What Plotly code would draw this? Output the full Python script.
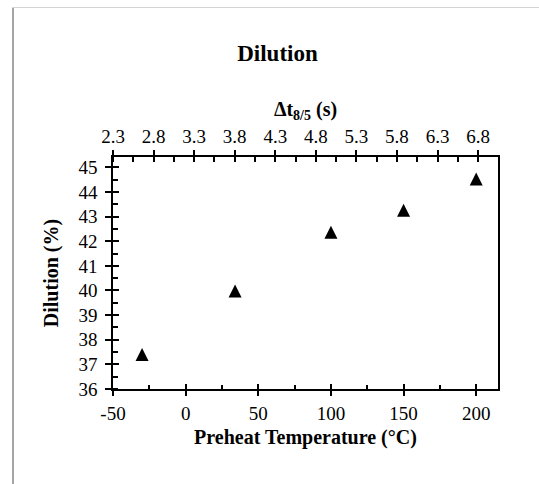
import plotly.graph_objects as go

# ---- data ----
preheat_temp = [-30, 34, 100, 150, 200]
dilution = [37.40, 39.98, 42.36, 43.26, 44.53]

x_ticks = [-50, 0, 50, 100, 150, 200]
x_ticktext = ["-50", "0", "50", "100", "150", "200"]
top_ticks = [2.3, 2.8, 3.3, 3.8, 4.3, 4.8, 5.3, 5.8, 6.3, 6.8]
top_ticktext = ["2.3", "2.8", "3.3", "3.8", "4.3", "4.8", "5.3", "5.8", "6.3", "6.8"]
y_ticks = [36, 37, 38, 39, 40, 41, 42, 43, 44, 45]

W, H = 539, 484
ML, MR, MT, MB = 113, 41, 157, 95
PW, PH = W - ML - MR, H - MT - MB

def px_x(p):
    return (p - ML) / PW

def px_y(p):
    return (H - MB - p) / PH

FONT = "Liberation Serif, Times New Roman, serif"
TICKFONT = dict(family=FONT, size=19, color="black")
TITLEFONT = dict(family=FONT, size=20, color="black")

XR = [-50, 215]
TR = [2.3, 7.045]
YR = [36, 45.42]

fig = go.Figure()
fig.add_trace(go.Scatter(
    x=preheat_temp, y=dilution, mode="markers", xaxis="x", yaxis="y",
    marker=dict(symbol="arrow-down", angle=180, standoff=6.5, size=13, color="black",
                line=dict(width=0)),
    showlegend=False, hoverinfo="x+y",
))
# empty traces so overlay axes exist
for xa, ya in [("x2", "y"), ("x3", "y"), ("x4", "y"), ("x", "y2")]:
    fig.add_trace(go.Scatter(x=[], y=[], xaxis=xa, yaxis=ya, showlegend=False))

common_line = dict(showline=True, linecolor="black", linewidth=1.5, showgrid=False,
                   zeroline=False, tickcolor="black", tickwidth=1.5)

fig.update_layout(
    width=W, height=H,
    margin=dict(l=ML, r=MR, t=MT, b=MB, pad=0),
    paper_bgcolor="white", plot_bgcolor="white",
    title=dict(text="<b>Dilution</b>", x=px_x(277.5), xref="paper", xanchor="center",
               y=1 - 53 / H, yref="container", yanchor="middle",
               font=dict(family=FONT, size=23, color="black")),
    xaxis=dict(range=XR, tickmode="array", tickvals=x_ticks, ticktext=x_ticktext,
               ticks="outside", ticklen=5, ticklabelstandoff=1,
               minor=dict(ticks="inside", tickvals=[-25, 25, 75, 125, 175], ticklen=4,
                          tickcolor="black", tickwidth=1.5),
               tickfont=TICKFONT, anchor="y",
               title=dict(text="<b>Preheat Temperature (°C)</b>", font=TITLEFONT, standoff=7),
               **common_line),
    xaxis3=dict(range=XR, overlaying="x", anchor="y", side="bottom", tickmode="array",
                tickvals=x_ticks, ticks="inside", ticklen=5, showticklabels=False,
                tickcolor="black", tickwidth=1.5, showline=False, showgrid=False, zeroline=False),
    xaxis2=dict(range=TR, overlaying="x", anchor="y", side="top", tickmode="array",
                tickvals=top_ticks, ticktext=top_ticktext,
                ticks="outside", ticklen=5,
                minor=dict(ticks="inside", dtick=0.25, tick0=2.3, ticklen=5,
                           tickcolor="black", tickwidth=1.5),
                tickfont=TICKFONT,
                title=dict(text="<b>Δt<sub>8/5</sub> (s)</b>", font=TITLEFONT, standoff=4),
                **common_line),
    xaxis4=dict(range=TR, overlaying="x", anchor="y", side="top", tickmode="array",
                tickvals=top_ticks, ticks="inside", ticklen=5, showticklabels=False,
                tickcolor="black", tickwidth=1.5, showline=False, showgrid=False, zeroline=False),
    yaxis=dict(range=YR, tickmode="array", tickvals=y_ticks, ticks="outside", ticklen=6,
               ticklabelstandoff=4,
               minor=dict(ticks="inside", dtick=0.5, tick0=36, ticklen=5,
                          tickcolor="black", tickwidth=1.5),
               tickfont=TICKFONT, anchor="x", mirror=True,
               title=dict(text="<b>Dilution (%)</b>", font=TITLEFONT, standoff=14),
               **common_line),
    yaxis2=dict(range=YR, overlaying="y", anchor="x", side="left", tickmode="array",
                tickvals=y_ticks, ticks="inside", ticklen=6, showticklabels=False,
                tickcolor="black", tickwidth=1.5, showline=False, showgrid=False, zeroline=False),
    shapes=[
        dict(type="line", xref="paper", yref="paper", x0=px_x(13), x1=px_x(13),
             y0=px_y(7.5), y1=px_y(490), line=dict(color="#a6a6a6", width=2)),
        dict(type="line", xref="paper", yref="paper", x0=px_x(12), x1=px_x(545),
             y0=px_y(7.5), y1=px_y(7.5), line=dict(color="#d4d4d4", width=1)),
    ],
)

fig.write_html("out.html")
